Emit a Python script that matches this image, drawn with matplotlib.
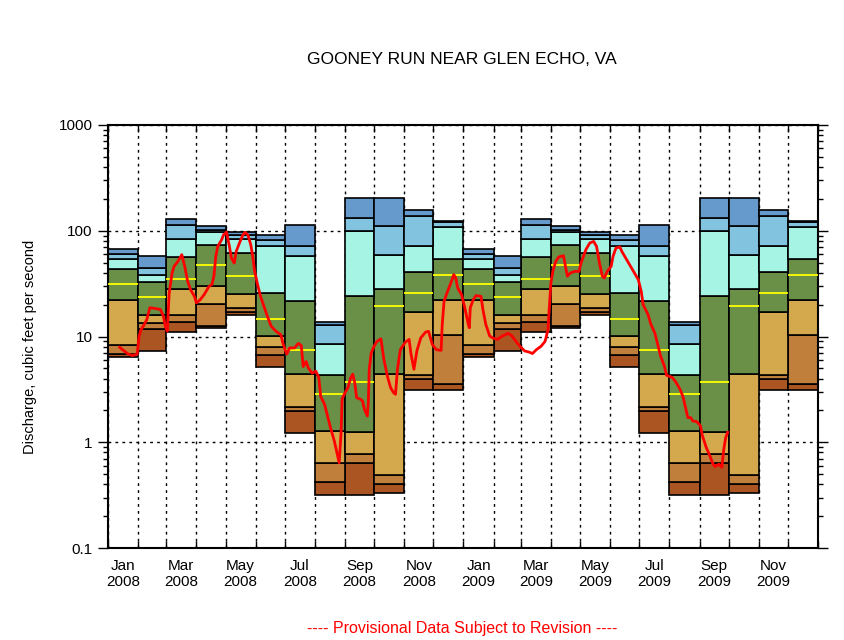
import numpy as np
import pandas as pd
import matplotlib
matplotlib.use("Agg")
import matplotlib.pyplot as plt
import matplotlib.dates as mdates
from matplotlib.ticker import LogLocator, NullFormatter

plt.rcParams["font.family"] = ["Liberation Sans", "DejaVu Sans"]

# ==========================
# Monthly percentiles of daily discharge (cfs), Jan..Dec
# ==========================
p_min = [6.4, 7.3, 11.1, 12.1, 15.8, 5.1, 1.21, 0.318, 0.32, 0.33, 3.1, 3.14]
p05 = [6.9, 11.8, 13.6, 12.6, 17.1, 6.7, 1.99, 0.417, 0.64, 0.40, 3.99, 3.58]
p10 = [8.4, 13.3, 15.8, 20.3, 18.7, 8.0, 2.17, 0.643, 0.78, 0.485, 4.35, 10.4]
p25 = [22.2, 16.1, 28.2, 30.3, 25.5, 10.2, 4.45, 1.29, 1.26, 4.45, 17.1, 22.2]
p50 = [31.4, 23.8, 35.0, 47.5, 37.4, 14.7, 7.5, 2.88, 3.74, 19.5, 25.8, 37.9]
p75 = [43.5, 32.8, 57.0, 73.3, 61.6, 25.8, 21.7, 4.35, 24.2, 28.2, 40.7, 54.0]
p90 = [54.0, 38.5, 83.5, 96.3, 83.5, 71.7, 57.7, 8.5, 99.3, 59.0, 71.7, 108]
p95 = [59.7, 44.8, 113, 102, 90.3, 81.7, 71.7, 12.8, 132, 111, 138, 120]
p_max = [67, 58, 128.8, 110, 97.3, 91, 113, 13.6, 203, 203, 157, 125]

month_names = ["Jan", "Feb", "Mar", "Apr", "May", "Jun",
               "Jul", "Aug", "Sep", "Oct", "Nov", "Dec"]
years = [2008, 2009]

# ==========================
# Daily discharge, days after 2008-01-01
# ==========================
flow_day = [
    12, 20, 25, 30, 32, 34, 37, 40, 43, 47, 54, 57, 59, 61, 63, 66, 68, 72, 76, 79,
    82, 85, 89, 91, 95, 99, 104, 107, 109, 111, 113, 117, 119, 122,
    125, 127, 130, 132, 136, 139, 141, 144, 147, 149, 151, 154, 157, 161, 164, 168,
    173, 178, 180, 184, 187, 192, 196, 199, 201, 204, 206, 210, 214, 217, 219, 223,
    226, 229, 233, 236, 238, 240, 241, 244,
    247, 250, 252, 254, 256, 260, 262, 264, 267, 268, 269, 271, 274, 277, 281, 284,
    288, 291, 294, 296, 298, 301, 306, 310, 312, 315, 318, 322, 327, 330, 334, 338,
    343, 344, 346, 349, 353, 356, 358, 360, 364, 367,
    371, 372, 373, 376, 379, 384, 386, 389, 393, 396, 401, 406, 412, 416, 420, 424,
    429, 434, 437, 441, 446, 450, 453, 454, 456, 458, 461, 464, 469, 471, 473, 476,
    481, 485, 487, 492, 496, 500, 503, 506, 509, 511, 514, 518, 520, 523, 527, 529,
    533, 536, 540, 543, 546, 549, 551, 556, 559, 563, 566, 569, 573, 575, 578, 581,
    585, 589, 592, 595, 597, 600, 602, 606, 610, 612, 616, 619, 623, 625, 629, 632,
    634, 636, 638,
]
flow_cfs = [
    7.9, 6.9, 6.6, 6.8, 10.1, 11.6, 12.8, 14.5, 18.7, 18.5, 18.0, 15.6, 12.5, 11.2,
    25.8, 39.9, 46, 51.3, 59.4, 46, 33.3, 27.7, 24.0, 20.8, 22.3, 24.9, 29.8, 31.0,
    37.1, 57.3, 71.1, 82.2, 91.6, 97.3,
    71.1, 55.2, 49.5, 63.8, 79.3, 91.6, 96.4, 91.6, 73.8, 57.3, 41.3, 31.0, 24.0,
    18.7, 15.6, 12.5, 11.2, 10.4, 8.7, 6.8, 7.8, 7.8, 8.6, 8.2, 5.2, 5.8, 5.1, 4.5,
    4.7, 4.1, 2.7, 2.28, 1.77, 1.38, 1.03, 0.77, 0.64, 1.24, 2.55, 2.94,
    3.28, 4.1, 4.4, 3.66, 2.64, 2.55, 2.46, 2.05, 1.77, 2.37, 4.9, 7.0, 8.1, 9.0,
    9.5, 6.1, 4.1, 3.28, 2.94, 2.84, 4.9, 7.5, 8.8, 9.4, 6.8, 4.9, 7.3, 9.7, 11.0,
    11.2, 8.4, 7.5, 7.4, 12.5, 21.5, 25.8, 32.1, 38.5, 35.8, 28.8, 24.9, 19.3,
    13.0, 12.1, 18.7, 22.3, 24.4, 24.0, 18.0, 13.0, 10.1, 9.7, 9.4, 10.1, 10.7,
    10.1, 9.0, 8.1, 7.3, 7.1, 6.9, 7.5, 8.1, 9.0, 11.6, 16.7, 32.1, 41.3, 51.3,
    56.5, 58.1, 46, 37.1, 39.9, 41.3, 41.3, 49.5, 66.2, 76.6, 79.3, 71.1, 49.5,
    37.1, 35.8, 41.3, 46, 57.3, 68.7, 70.2, 63.8, 55.2, 49.5, 42.9, 38.5, 34.5,
    26.7, 20.0, 16.1, 13.0, 10.8, 8.4, 6.5, 5.2, 4.3, 4.2, 4.1, 3.66, 3.16, 2.7,
    2.05, 1.71, 1.71, 1.59, 1.57, 1.43, 1.15, 0.89, 0.77, 0.62, 0.59, 0.62, 0.58,
    0.86, 1.11, 1.24,
]

band_colors = ["#AA5522", "#C0803C", "#D4A84C", "#6A9048",
               "#A6F4E4", "#82C4E0", "#6699CC"]

# ==========================
# Figure
# ==========================
fig = plt.figure(figsize=(8.45, 6.4), dpi=100)
ax = fig.add_axes([108 / 845, 1 - 548 / 640, 710 / 845, 423 / 640])

month_start = pd.date_range("2008-01-01", periods=25, freq="MS")
x0 = mdates.date2num(month_start[:-1])
widths = np.diff(mdates.date2num(month_start))

levels = [np.tile(a, 2) for a in (p_min, p05, p10, p25, p75, p90, p95, p_max)]
median = np.tile(p50, 2)

for i, color in enumerate(band_colors):
    lo, hi = levels[i], levels[i + 1]
    ax.bar(x0, hi - lo, bottom=lo, width=widths, align="edge",
           color=color, edgecolor="black", linewidth=1.2, zorder=2)
ax.hlines(median, x0, x0 + widths, color="#FFFF00", linewidth=1.3, zorder=3)

dates = pd.Timestamp("2008-01-01") + pd.to_timedelta(flow_day, unit="D")
ax.plot(mdates.date2num(dates), flow_cfs, color="red", linewidth=2, zorder=4)

ax.set_yscale("log")
ax.set_ylim(0.1, 1000)
ax.set_xlim(mdates.date2num(month_start[0]), mdates.date2num(month_start[-1]))

# y ticks
ax.set_yticks([0.1, 1, 10, 100, 1000])
ax.set_yticklabels(["0.1", "1", "10", "100", "1000"])
ax.yaxis.set_minor_locator(LogLocator(base=10, subs=np.arange(2, 10)))
ax.yaxis.set_minor_formatter(NullFormatter())
ax.tick_params(axis="y", which="major", direction="out", length=7, width=1,
               left=True, right=True, labelsize=11, pad=4)
ax.tick_params(axis="y", which="minor", direction="out", length=3.5, width=1,
               left=True, right=True)

# x ticks: month boundaries, labels in the middle of every other month
ax.set_xticks(mdates.date2num(month_start))
ax.tick_params(axis="x", which="major", direction="in", length=5, width=1,
               top=True, bottom=True, labelbottom=False)
label_mid = x0[::2] + widths[::2] / 2
labels = [f"{month_names[m % 12]}\n{years[m // 12]}" for m in range(0, 24, 2)]
ax.set_xticks(label_mid, minor=True)
ax.set_xticklabels(labels, minor=True)
ax.tick_params(axis="x", which="minor", length=0, labelsize=11, pad=8)

ax.grid(True, which="major", color="black", linestyle=(0, (2, 3)), linewidth=1)
ax.set_axisbelow(True)
for s in ax.spines.values():
    s.set_linewidth(1.5)

fig.text(462 / 845, 1 - 60 / 640, "GOONEY RUN NEAR GLEN ECHO, VA",
         ha="center", va="center", fontsize=12.5)
fig.text(30 / 845, 1 - 347 / 640, "Discharge, cubic feet per second",
         ha="center", va="center", rotation=90, fontsize=10.5)
fig.text(462 / 845, 1 - 628 / 640, "---- Provisional Data Subject to Revision ----",
         ha="center", va="center", fontsize=11.5, color="red")

fig.savefig("out.png", dpi=100)
